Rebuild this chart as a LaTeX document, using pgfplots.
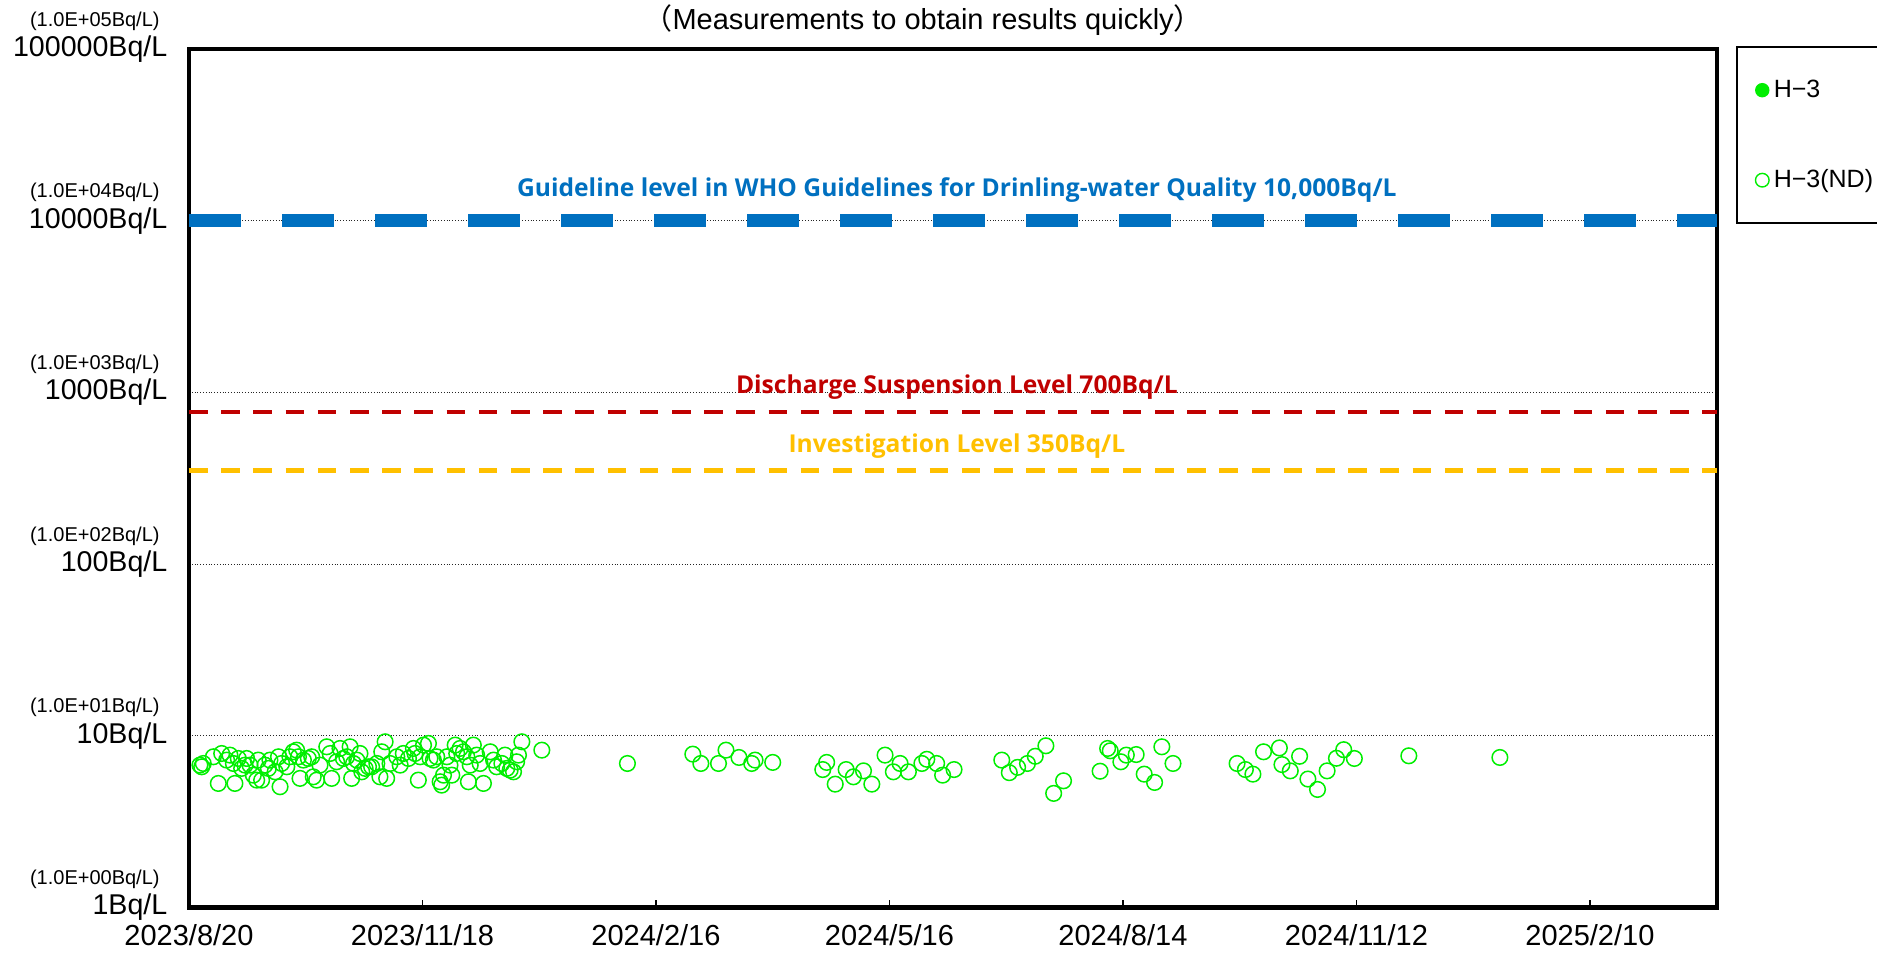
\documentclass[border=0pt]{standalone}
\usepackage{fontspec}
\setmainfont{Liberation Sans}
\newfontfamily\cjk{Noto Sans CJK JP}
\newfontfamily\annot{Open Sans}
\usepackage{pgfplots}
\pgfplotsset{compat=1.18}
\definecolor{whoblue}{HTML}{0070C0}
\definecolor{redl}{HTML}{C00000}
\definecolor{orangel}{HTML}{FFC000}
\definecolor{ptgreen}{HTML}{00EE00}
\begin{document}
\begin{tikzpicture}
\path[use as bounding box] (-94.5pt,-22.75pt) rectangle (844pt,453.75pt);
\begin{axis}[
  at={(0pt,0pt)}, anchor=south west,
  scale only axis, width=764pt, height=429.25pt,
  xmin=0, xmax=589, ymode=log, ymin=1, ymax=100000,
  clip mode=individual,
  axis line style={line width=2.4pt, line cap=rect},
  xtick={0,90,180,270,360,450,540},
  xticklabels={2023/8/20,2023/11/18,2024/2/16,2024/5/16,2024/8/14,2024/11/12,2025/2/10},
  xticklabel style={font=\fontsize{14.5}{16}\selectfont, yshift=-5pt},
  ytick={1,10,100,1000,10000,100000},
  yticklabels={1Bq/L,10Bq/L,100Bq/L,1000Bq/L,10000Bq/L,100000Bq/L},
  yticklabel style={font=\fontsize{14.3}{16}\selectfont, xshift=-7.3pt},
  yminorticks=false,
  ymajorgrids, major grid style={densely dotted, line width=0.55pt, black!85},
  tick align=inside, major tick length=4pt, xtick pos=bottom,
  xtick style={black, line width=0.6pt}, ytick style={draw=none},
  legend style={at={(axis description cs:1.0124,1.0035)}, anchor=north west,
    draw=black, line width=0.8pt, inner xsep=9pt, inner ysep=13.1pt,
    row sep=28.2pt, column sep=0pt,
    nodes={text height=10.5pt, text depth=2.3pt},
    font=\fontsize{12.5}{13}\selectfont},
  legend cell align=left,
]
\addlegendimage{legend image code/.code={\fill[ptgreen] (0pt,-0.2pt) circle (3.2pt);}}
\addlegendentry{H−3}
\addlegendimage{legend image code/.code={\draw[ptgreen, line width=0.7pt] (0pt,-0.2pt) circle (3.4pt);}}
\addlegendentry{H−3(ND)}

\addplot[whoblue, line width=6.65pt, dash pattern=on 26pt off 20.5pt, forget plot] coordinates {(0,10000) (589,10000)};
\addplot[redl, line width=2.3pt, dash pattern=on 9.3pt off 6.8pt, forget plot] coordinates {(0,770) (589,770)};
\addplot[orangel, line width=2.3pt, dash pattern=on 9.3pt off 6.8pt, forget plot] coordinates {(0,350) (589,350)};

\addplot[only marks, mark=o, mark size=3.9pt, mark options={ptgreen, line width=0.75pt}, forget plot] coordinates {
(4.2,6.75) (5.5,6.90) (4.9,6.60) (9.4,7.55) (11.3,5.28) (12.6,7.89) (14.5,7.22) (15.8,7.72)
(17.1,6.90) (17.7,5.28) (19.0,7.38) (20.3,6.46) (21.6,6.75) (22.2,7.38) (23.5,6.75) (24.8,5.90)
(26.1,5.52) (26.7,7.22) (28.0,5.52) (29.3,6.75) (30.6,6.46) (31.2,7.22) (33.2,6.17) (34.5,7.55)
(35.1,5.05) (35.7,6.90) (37.7,6.60) (38.9,7.55) (40.2,8.07) (41.5,8.25) (42.2,7.55) (42.8,5.65)
(44.1,7.22) (46.0,7.38) (47.3,7.55) (47.9,5.77) (49.2,5.52) (50.5,6.75) (53.1,8.63) (54.4,7.89)
(55.0,5.65) (56.9,7.06) (58.2,8.44) (59.5,7.38) (60.8,7.55) (62.1,8.63) (62.7,5.65) (63.4,6.90)
(64.7,7.22) (65.9,7.89) (66.6,6.17) (67.9,6.46) (69.2,6.60) (70.4,6.60) (72.4,6.90) (73.6,5.77)
(74.3,8.07) (75.6,9.23) (76.2,5.65) (77.5,6.90) (80.1,7.55) (81.4,6.75) (82.6,7.89) (84.6,7.38)
(86.5,8.44) (87.1,7.89) (88.4,5.52) (89.1,7.55) (90.4,8.83) (92.3,9.03) (92.9,7.38) (94.2,7.22)
(95.5,7.55) (96.8,5.40) (97.4,5.16) (98.1,5.90) (99.4,7.55) (100.6,6.75) (101.3,5.90) (102.6,8.83)
(103.2,7.89) (104.5,8.44) (105.8,8.07) (107.1,7.55) (107.7,5.40) (108.4,6.75) (109.6,8.83) (110.9,7.72)
(112.2,6.90) (113.5,5.28) (116.1,8.07) (117.4,7.22) (118.6,6.60) (120.6,6.90) (121.8,7.72) (122.5,6.46)
(123.8,6.31) (125.1,6.17) (126.3,7.06) (127.0,7.72) (128.3,9.23) (136.0,8.25)
(169.0,6.90) (194.2,7.82) (197.3,6.90) (204.1,6.90) (207.0,8.25) (212.0,7.48) (218.2,7.22) (216.9,6.90)
(225.0,7.00) (244.3,6.36) (245.8,7.00) (249.1,5.23) (253.3,6.36) (256.1,5.77) (260.0,6.25) (263.2,5.23)
(268.3,7.72) (271.5,6.17) (274.1,6.90) (277.3,6.17) (282.5,6.90) (284.4,7.30) (288.2,6.90) (290.5,5.90)
(294.9,6.36) (313.3,7.22) (316.2,6.10) (319.4,6.55) (323.2,6.90) (326.2,7.60) (330.3,8.75) (333.3,4.62)
(337.1,5.47) (351.2,6.22) (354.1,8.44) (355.1,8.18) (359.2,7.06) (361.3,7.72) (365.1,7.78) (368.2,5.98)
(372.2,5.35) (375.0,8.63) (379.3,6.90) (404.0,6.90) (407.2,6.36) (410.1,5.98) (414.2,8.07) (420.3,8.50)
(421.3,6.80) (424.5,6.25) (428.1,7.60) (431.3,5.60) (435.0,4.87) (438.7,6.25) (442.3,7.40) (445.1,8.30)
(449.2,7.38) (470.2,7.65) (505.3,7.48)
};

\node[whoblue, font=\annot\bfseries\fontsize{12.3}{14}\selectfont] at (axis cs:296,15080) {Guideline level in WHO Guidelines for Drinling-water Quality 10,000Bq/L};
\node[redl, font=\annot\bfseries\fontsize{12.3}{14}\selectfont] at (axis cs:296,1069) {Discharge Suspension Level 700Bq/L};
\node[orangel, font=\annot\bfseries\fontsize{12.3}{14}\selectfont] at (axis cs:296,487) {Investigation Level 350Bq/L};

\node[font=\fontsize{14.5}{16}\selectfont] at (axis cs:283,100000) [yshift=14.3pt] {{\cjk （}Measurements to obtain results quickly{\cjk ）}};

\node[anchor=east, inner sep=0pt, font=\fontsize{10}{11}\selectfont] at (axis cs:0,1) [xshift=-14.5pt, yshift=14pt] {(1.0E+00Bq/L)};
\node[anchor=east, inner sep=0pt, font=\fontsize{10}{11}\selectfont] at (axis cs:0,10) [xshift=-14.5pt, yshift=14pt] {(1.0E+01Bq/L)};
\node[anchor=east, inner sep=0pt, font=\fontsize{10}{11}\selectfont] at (axis cs:0,100) [xshift=-14.5pt, yshift=14pt] {(1.0E+02Bq/L)};
\node[anchor=east, inner sep=0pt, font=\fontsize{10}{11}\selectfont] at (axis cs:0,1000) [xshift=-14.5pt, yshift=14pt] {(1.0E+03Bq/L)};
\node[anchor=east, inner sep=0pt, font=\fontsize{10}{11}\selectfont] at (axis cs:0,10000) [xshift=-14.5pt, yshift=14pt] {(1.0E+04Bq/L)};
\node[anchor=east, inner sep=0pt, font=\fontsize{10}{11}\selectfont] at (axis cs:0,100000) [xshift=-14.5pt, yshift=14pt] {(1.0E+05Bq/L)};
\end{axis}
\end{tikzpicture}
\end{document}
